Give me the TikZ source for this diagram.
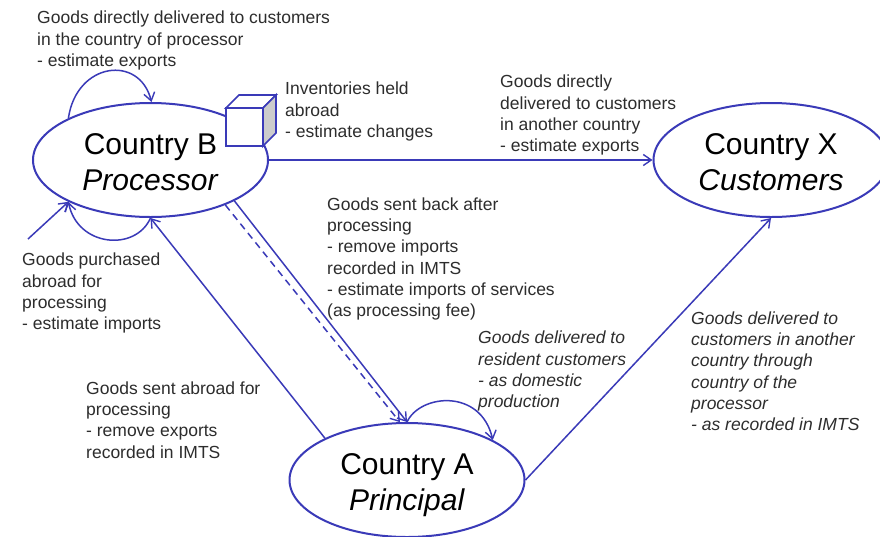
\documentclass[tikz,border=0pt]{standalone}
\usepackage{fontspec}
\setmainfont{Liberation Sans}
\usetikzlibrary{shapes.geometric,arrows.meta}
\definecolor{flow}{RGB}{58,58,184}
\definecolor{label}{RGB}{45,45,45}
\tikzset{
  country/.style={ellipse,draw=flow,line width=2pt,fill=white,minimum width=235pt,minimum height=114pt,inner sep=0pt,align=center,text=black,font=\fontsize{30}{36}\selectfont},
  flowline/.style={draw=flow,line width=1.5pt,-{Straight Barb[length=8pt,width=11pt,line width=1.4pt]}},
  note/.style={anchor=north west,inner sep=0pt,align=left,text=label,font=\fontsize{17.5}{21.3}\selectfont},
  inote/.style={note,font=\fontsize{17.5}{21.3}\itshape\selectfont},
  cubeline/.style={draw=flow,line width=1.7pt,line join=miter}
}
\begin{document}
\begin{tikzpicture}[x=1pt,y=-1pt]
\useasboundingbox (0,0) rectangle (880,536);
\fill[white] (0,0) rectangle (880,536);
\node[country] (B) at (150.5,160) {\rule{0pt}{26pt}Country B\\\textit{Processor}};
\node[country] (A) at (407,480) {\rule{0pt}{31pt}Country A\\\textit{Principal}};
\node[country] (X) at (771,160) {\rule{0pt}{26pt}Country X\\\textit{Customers}};
% cube
\coordinate (c1) at (226,108);\coordinate (c2) at (263,108);\coordinate (c3) at (263,146);\coordinate (c4) at (226,146);
\coordinate (c5) at (239,95);\coordinate (c6) at (276,95);\coordinate (c7) at (276,133);
\filldraw[cubeline,fill=white] (c1) -- (c5) -- (c6) -- (c2) -- cycle;
\filldraw[cubeline,fill=black!20] (c2) -- (c6) -- (c7) -- (c3) -- cycle;
\filldraw[cubeline,fill=white] (c1) -- (c2) -- (c3) -- (c4) -- cycle;
% connectors
\coordinate (free) at (28,239);
\draw[flowline] (B.153) .. controls +(8,-56) and +(-12,-48) .. (B.89);
\draw[flowline] (B.-90) .. controls +(-15,34) and +(9,45) .. (B.207);
\draw[flowline] (free) -- (B.207);
\draw[flowline] (A.153.4) -- (B.-90);
\draw[flowline] (B.-26.4) -- (A.90);
\draw[flowline,dash pattern=on 7pt off 5pt] (B.-31) -- (A.97);
\draw[flowline] (A.90) .. controls +(13,-28) and +(-12,-52) .. (A.25.2);
\draw[flowline] (A.0) -- (X.-90);
\draw[flowline] (B.0) -- (X.180);
% labels
\node[note] (n1) at (37,11) {Goods directly delivered to customers\\in the country of processor\\- estimate exports};
\node[note] (n2) at (285,82) {Inventories held\\abroad\\- estimate changes};
\node[note] (n3) at (500,75) {Goods directly\\delivered to customers\\in another country\\- estimate exports};
\node[note] (n4) at (327,197.5) {Goods sent back after\\processing\\- remove imports\\recorded in IMTS\\- estimate imports of services\\(as processing fee)};
\node[note] (n5) at (22,253) {Goods purchased\\abroad for\\processing\\- estimate imports};
\node[note] (n6) at (86,381.5) {Goods sent abroad for\\processing\\- remove exports\\recorded in IMTS};
\node[inote] (n7) at (478,331) {Goods delivered to\\resident customers\\- as domestic\\production};
\node[inote] (n8) at (691,311.5) {Goods delivered to\\customers in another\\country through\\country of the\\processor\\- as recorded in IMTS};
\end{tikzpicture}
\end{document}
